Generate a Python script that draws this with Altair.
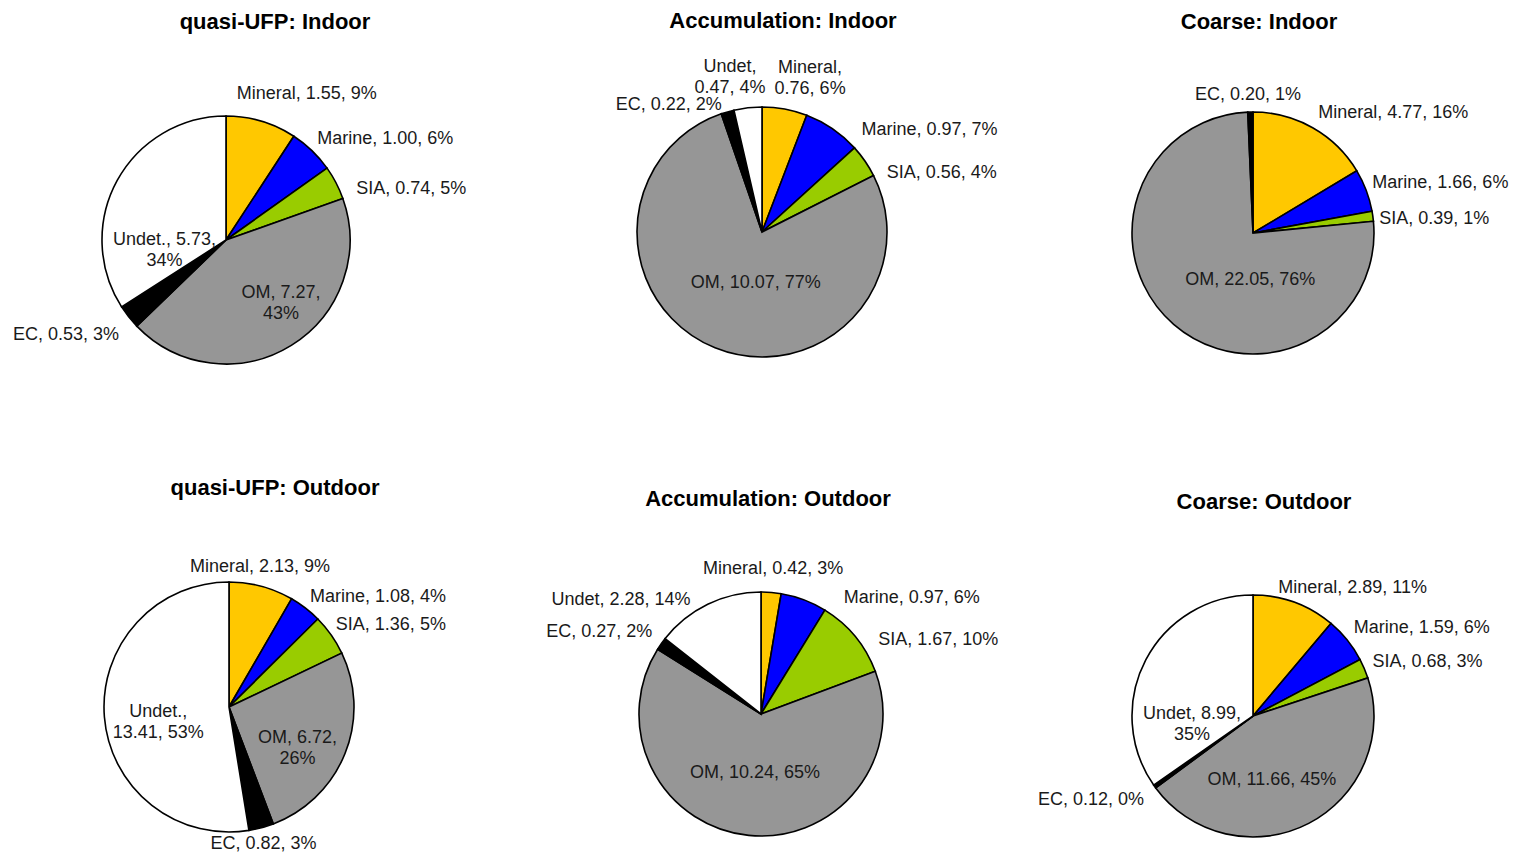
import altair as alt
import pandas as pd

# ---------------- data ----------------
CATEGORIES = ["Mineral", "Marine", "SIA", "OM", "EC", "Undet"]
COLORS = ["#FFC800", "#0000FF", "#99CC00", "#969696", "#000000", "#FFFFFF"]

TITLES = [
    "quasi-UFP: Indoor", "Accumulation: Indoor", "Coarse: Indoor",
    "quasi-UFP: Outdoor", "Accumulation: Outdoor", "Coarse: Outdoor",
]

QUFP_IN = [1.55, 1.00, 0.74, 7.27, 0.53, 5.73]
ACC_IN = [0.76, 0.97, 0.56, 10.07, 0.22, 0.47]
COARSE_IN = [4.77, 1.66, 0.39, 22.05, 0.20, 0.0]
QUFP_OUT = [2.13, 1.08, 1.36, 6.72, 0.82, 13.41]
ACC_OUT = [0.42, 0.97, 1.67, 10.24, 0.27, 2.28]
COARSE_OUT = [2.89, 1.59, 0.68, 11.66, 0.12, 8.99]

LABELS_QUFP_IN = ["Mineral, 1.55, 9%", "Marine, 1.00, 6%", "SIA, 0.74, 5%",
                  "OM, 7.27,\n43%", "EC, 0.53, 3%", "Undet., 5.73,\n34%"]
LABELS_ACC_IN = ["Mineral,\n0.76, 6%", "Marine, 0.97, 7%", "SIA, 0.56, 4%",
                 "OM, 10.07, 77%", "EC, 0.22, 2%", "Undet,\n0.47, 4%"]
LABELS_COARSE_IN = ["Mineral, 4.77, 16%", "Marine, 1.66, 6%", "SIA, 0.39, 1%",
                    "OM, 22.05, 76%", "EC, 0.20, 1%", ""]
LABELS_QUFP_OUT = ["Mineral, 2.13, 9%", "Marine, 1.08, 4%", "SIA, 1.36, 5%",
                   "OM, 6.72,\n26%", "EC, 0.82, 3%", "Undet.,\n13.41, 53%"]
LABELS_ACC_OUT = ["Mineral, 0.42, 3%", "Marine, 0.97, 6%", "SIA, 1.67, 10%",
                  "OM, 10.24, 65%", "EC, 0.27, 2%", "Undet, 2.28, 14%"]
LABELS_COARSE_OUT = ["Mineral, 2.89, 11%", "Marine, 1.59, 6%", "SIA, 0.68, 3%",
                     "OM, 11.66, 45%", "EC, 0.12, 0%", "Undet, 8.99,\n35%"]

VALUES = [QUFP_IN, ACC_IN, COARSE_IN, QUFP_OUT, ACC_OUT, COARSE_OUT]
LABELS = [LABELS_QUFP_IN, LABELS_ACC_IN, LABELS_COARSE_IN,
          LABELS_QUFP_OUT, LABELS_ACC_OUT, LABELS_COARSE_OUT]

# ---------------- layout (pixels) ----------------
PIE_LAYOUT = [
    dict(cx=218, cy=232, r=124, tx=267, ty=14),
    dict(cx=754, cy=224, r=125, tx=775, ty=13),
    dict(cx=1245, cy=225, r=121, tx=1251, ty=14),
    dict(cx=221, cy=699, r=125, tx=267, ty=480),
    dict(cx=753, cy=706, r=122, tx=760, ty=491),
    dict(cx=1245, cy=708, r=121, tx=1256, ty=494),
]
# per label: (radius from centre along slice mid-angle, dx, dy)
LABEL_LAYOUT = [
    [(167, 33, 14), (188, 29, 35), (192, 15, 38), (76, 15, -12), (186, -14, -20), (61, -8, 29)],
    [(171, 17, 4), (196, 57, 60), (189, 24, 48), (51, 13, 4), (157, -50, 24), (168, -13, 2)],
    [(185, 49, 41), (197, 3, 19), (182, 1, 11), (47, 28, 12), (138, -2, 0), (0, 0, 0)],
    [(143, -6, -2), (185, 36, 36), (182, 13, 23), (75, -1, 3), (149, -4, -7), (71, 0, -1)],
    [(146, 0, 0), (190, 84, 62), (192, 29, 48), (59, 0, 0), (182, -13, 23), (181, -61, 49)],
    [(162, 44, 24), (191, 20, 32), (182, 7, 17), (67, -12, 5), (182, -14, -22), (61, -7, 26)],
]

FONT = "Liberation Sans, Arial, Helvetica, sans-serif"

color_scale = alt.Scale(domain=CATEGORIES, range=COLORS)

layers = []
for i in range(6):
    lay = PIE_LAYOUT[i]
    df = pd.DataFrame({
        "cat": CATEGORIES,
        "value": VALUES[i],
        "label": LABELS[i],
        "idx": list(range(len(CATEGORIES))),
    })
    df = df[df["value"] > 0].reset_index(drop=True)

    base = (
        alt.Chart(df)
        .transform_joinaggregate(total="sum(value)")
        .transform_calculate(ang="datum.value / datum.total * 2 * PI")
        .transform_stack(stack="ang", as_=["a0", "a1"], groupby=[],
                         sort=[alt.SortField("idx", order="ascending")])
        .transform_calculate(mid="(datum.a0 + datum.a1) / 2")
    )

    arc = base.mark_arc(outerRadius=lay["r"], stroke="#000000", strokeWidth=1.6).encode(
        x=alt.value(lay["cx"]),
        y=alt.value(lay["cy"]),
        theta=alt.Theta("a0:Q", scale=None),
        theta2=alt.Theta2("a1:Q"),
        color=alt.Color("cat:N", scale=color_scale, legend=None),
    )
    layers.append(arc)

    for j, cat in enumerate(CATEGORIES):
        if cat not in set(df["cat"]):
            continue
        R, dx, dy = LABEL_LAYOUT[i][j]
        txt = base.transform_filter(alt.datum.cat == cat).mark_text(
            radius=R, dx=dx, dy=dy, fontSize=18, font=FONT, lineBreak="\n",
            lineHeight=21, align="center", baseline="middle", color="#1a1a1a",
        ).encode(
            x=alt.value(lay["cx"]),
            y=alt.value(lay["cy"]),
            theta=alt.Theta("mid:Q", scale=None),
            text=alt.Text("label:N"),
        )
        layers.append(txt)

    title = alt.Chart(pd.DataFrame({"t": [TITLES[i]]})).mark_text(
        fontSize=22, fontWeight="bold", font=FONT, align="center",
        baseline="middle", color="#000000",
    ).encode(
        x=alt.value(lay["tx"]),
        y=alt.value(lay["ty"]),
        text=alt.Text("t:N"),
    )
    layers.append(title)

chart = (
    alt.layer(*layers)
    .properties(width=1504, height=846, padding=0, autosize="none", background="white")
    .configure_view(stroke=None)
)

chart.save("out.html", embed_options={"renderer": "svg", "actions": False})
